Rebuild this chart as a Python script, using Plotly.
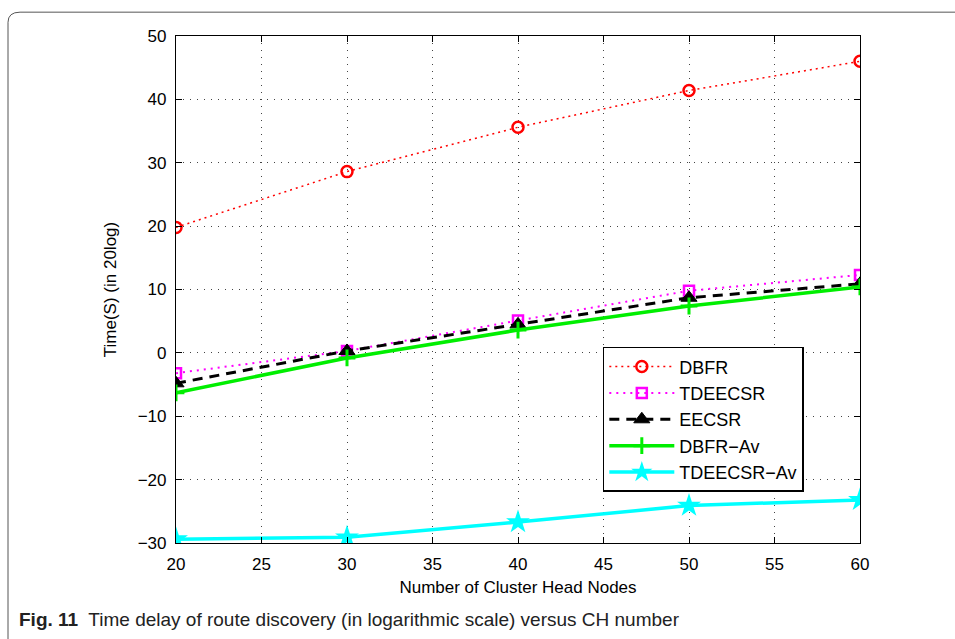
import plotly.graph_objects as go

# Number of cluster head nodes
ch_nodes = [20, 30, 40, 50, 60]

# Route discovery delay, 20*log10(t)
dbfr = [19.8, 28.6, 35.6, 41.4, 46.0]
tdeecsr = [-3.2, 0.3, 5.1, 9.8, 12.3]
eecsr = [-4.8, 0.3, 4.5, 8.7, 10.9]
dbfr_av = [-6.3, -0.8, 3.6, 7.4, 10.4]
tdeecsr_av = [-29.4, -29.1, -26.7, -24.1, -23.2]

x_ticks = [20, 25, 30, 35, 40, 45, 50, 55, 60]
y_ticks = [-30, -20, -10, 0, 10, 20, 30, 40, 50]

series = [
    dict(name="DBFR", y=dbfr, color="#ff0000", dash="2px,4px", width=1.5,
         symbol="circle-open", msize=11, mline=2.5),
    dict(name="TDEECSR", y=tdeecsr, color="#ff00ff", dash="2px,5px", width=2,
         symbol="square-open", msize=10, mline=2.5),
    dict(name="EECSR", y=eecsr, color="#000000", dash="10px,7px", width=3,
         symbol="triangle-up", msize=14, mline=1),
    dict(name="DBFR\u2212Av", y=dbfr_av, color="#00ee00", dash="solid", width=3.5,
         symbol="cross-thin-open", msize=12, mline=3),
    dict(name="TDEECSR\u2212Av", y=tdeecsr_av, color="#00ffff", dash="solid", width=3.5,
         symbol="star", msize=18, mline=0),
]

fig = go.Figure()
for s in series:
    fig.add_trace(go.Scatter(
        x=ch_nodes, y=s["y"], name=s["name"], mode="lines+markers",
        line=dict(color=s["color"], dash=s["dash"], width=s["width"]),
        marker=dict(symbol=s["symbol"], size=s["msize"], color=s["color"],
                    line=dict(color=s["color"], width=s["mline"])),
    ))

axis_common = dict(
    showline=True, linecolor="black", linewidth=1.2, mirror="ticks",
    ticks="inside", ticklen=6, tickcolor="black", tickwidth=1,
    ticklabelstandoff=5,
    showgrid=True, gridcolor="#444444", griddash="1px,6px", gridwidth=1,
    zeroline=False,
    tickfont=dict(family="Liberation Sans, Arial", size=17, color="black"),
)

fig.update_xaxes(range=[20, 60], tickvals=x_ticks,
                 title=dict(text="Number of Cluster Head Nodes", standoff=8,
                            font=dict(family="Liberation Sans, Arial", size=17, color="black")),
                 **axis_common)
fig.update_yaxes(range=[-30, 50], tickvals=y_ticks,
                 title=dict(text="Time(S) (in 20log)", standoff=16,
                            font=dict(family="Liberation Sans, Arial", size=17, color="black")),
                 **axis_common)

fig.update_layout(
    width=955, height=639,
    margin=dict(l=176, r=95, t=36, b=96),
    plot_bgcolor="white", paper_bgcolor="white",
    showlegend=True,
    legend=dict(x=0.624, y=0.387, xanchor="left", yanchor="top",
                bgcolor="white", bordercolor="black", borderwidth=1.5,
                font=dict(family="Liberation Sans, Arial", size=18, color="black"),
                tracegroupgap=0, itemwidth=65),
    annotations=[
        dict(text="<b>Fig. 11</b>  Time delay of route discovery (in logarithmic scale) versus CH number",
             xref="paper", yref="paper", x=-0.233, y=-0.175,
             xanchor="left", yanchor="bottom", showarrow=False,
             font=dict(family="Liberation Sans Narrow, Liberation Sans", size=19, color="#222222")),
    ],
    shapes=[
        dict(type="path", xref="paper", yref="paper", layer="below",
             path="M -0.2456,-0.19 L -0.2456,1.027 Q -0.2456,1.047 -0.228,1.047 L 1.14,1.047",
             line=dict(color="#555555", width=1)),
    ],
)

fig.write_html("out.html")
